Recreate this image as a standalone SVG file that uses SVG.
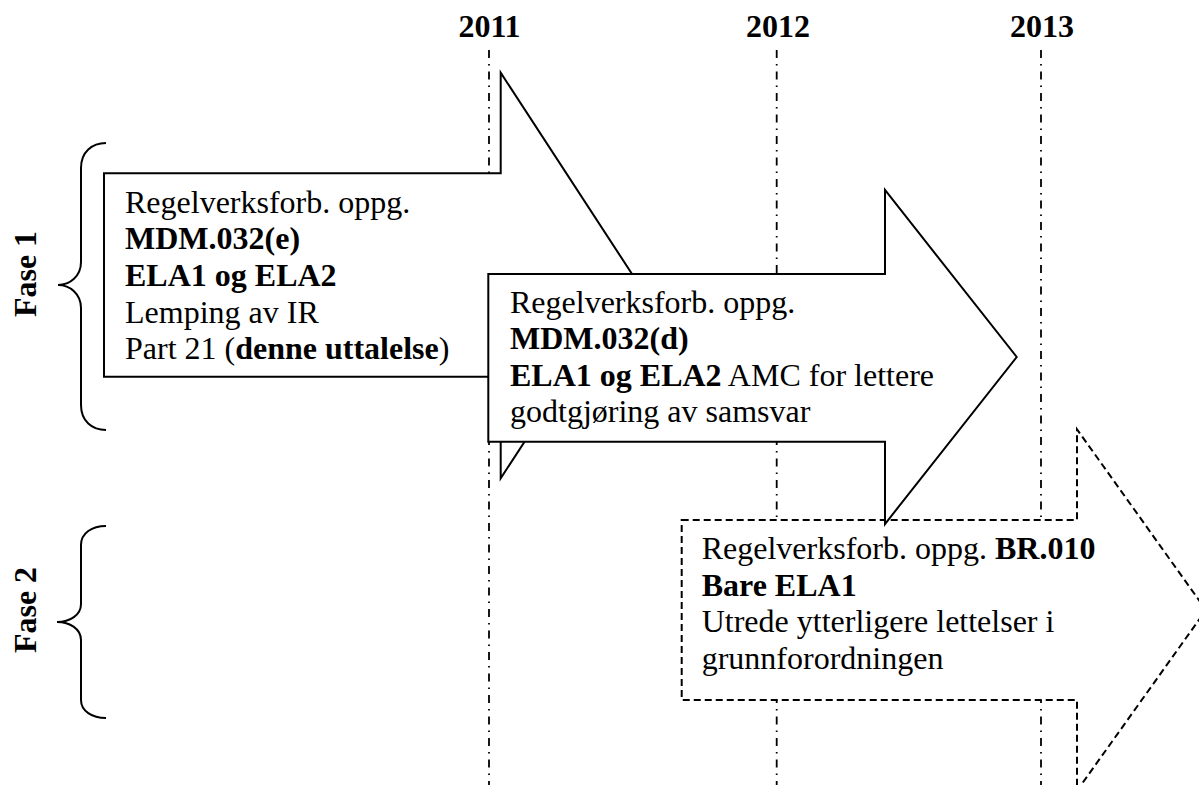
<svg xmlns="http://www.w3.org/2000/svg" width="1199" height="785" viewBox="0 0 1199 785">
<style>
text{font-family:"Liberation Serif","Times New Roman",serif;font-size:32px;fill:#000}
.b{font-weight:bold}
.year{font-weight:bold;text-anchor:middle}
.grid{stroke:#000;stroke-width:1.8;stroke-dasharray:8,6,1.5,6;fill:none}
.arrow{fill:#fff;stroke:#000;stroke-width:2;stroke-linejoin:miter}
.dashed{stroke-dasharray:7,4}
.brace{fill:none;stroke:#000;stroke-width:2}
</style>
<rect width="1199" height="785" fill="#fff"/>
<g id="timeline">
<text class="year" x="489.5" y="37">2011</text>
<text class="year" x="778" y="37">2012</text>
<text class="year" x="1042" y="37">2013</text>
<line class="grid" x1="489" y1="50" x2="489" y2="785"/>
<line class="grid" x1="776.7" y1="50" x2="776.7" y2="785"/>
<line class="grid" x1="1041" y1="50" x2="1041" y2="785"/>
</g>
<g id="phase1">
<path class="brace" d="M106,143 C92,143 81,152 81,168 L81,262 C81,276 70,285 58,285 C70,285 81,294 81,308 L81,405 C81,421 92,430 106,430"/>
<text class="b" transform="translate(36,274) rotate(-90)" text-anchor="middle">Fase 1</text>
</g>
<g id="phase2">
<path class="brace" d="M106,526 C92,526 81,533 81,545 L81,604 C81,615 70,622 57,622 C70,622 81,629 81,640 L81,700 C81,711 92,718 106,718"/>
<text class="b" transform="translate(36,610) rotate(-90)" text-anchor="middle">Fase 2</text>
</g>
<g id="arrow1">
<polygon class="arrow" points="104,173.3 500.7,173.3 500.7,72.7 633,275.5 500.7,478.3 500.7,376.7 104,376.7"/>
<text x="125" y="212.5">Regelverksforb. oppg.</text>
<text x="125" y="249.2" class="b">MDM.032(e)</text>
<text x="125" y="285.9" class="b">ELA1 og ELA2</text>
<text x="125" y="322.6">Lemping av IR</text>
<text x="125" y="359.3">Part 21 (<tspan class="b">denne uttalelse</tspan>)</text>
</g>
<g id="arrow3">
<polygon class="arrow dashed" points="681.7,520 1077,520 1077,429.3 1206,610 1077,790.7 1077,700 681.7,700"/>
<text x="701.7" y="559">Regelverksforb. oppg. <tspan class="b">BR.010</tspan></text>
<text x="701.7" y="595.5" class="b">Bare ELA1</text>
<text x="701.7" y="632">Utrede ytterligere lettelser i</text>
<text x="701.7" y="668.5">grunnforordningen</text>
</g>
<g id="arrow2">
<polygon class="arrow" points="488.3,274 885,274 885,190 1016.7,357 885,524 885,441.7 488.3,441.7"/>
<text x="510" y="312.7">Regelverksforb. oppg.</text>
<text x="510" y="349.2" class="b">MDM.032(d)</text>
<text x="510" y="385.7"><tspan class="b">ELA1 og ELA2</tspan> AMC for lettere</text>
<text x="510" y="422.2">godtgjøring av samsvar</text>
</g>
</svg>
